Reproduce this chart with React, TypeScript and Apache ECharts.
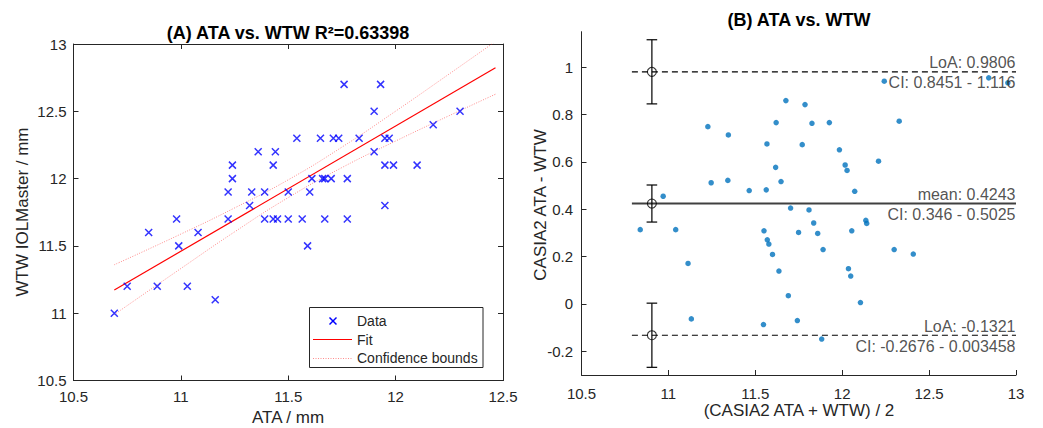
import React, { useEffect, useRef } from "react";
import * as echarts from "echarts";

// ---------- Panel A data: ATA (x) vs. WTW IOLMaster (y) ----------
const ataValues = [
  10.69, 11.16, 10.75, 10.89, 11.03, 10.99, 11.59, 10.85, 11.08,
  10.98, 11.22, 11.39, 11.43, 11.45, 11.5, 11.565, 11.67, 11.775,
  11.32, 11.95, 11.22, 11.33, 11.39, 11.5, 11.6,
  11.24, 11.61, 11.66, 11.67, 11.7, 11.775,
  11.24, 11.43, 11.95, 11.99, 12.1,
  11.36, 11.44, 11.9,
  11.54, 11.65, 11.71, 11.735, 11.83, 11.95, 11.97,
  12.175, 11.9, 12.3, 11.76, 11.93,
];
const wtwValues = [
  11.0, 11.1, 11.2, 11.2, 11.2, 11.5, 11.5, 11.6, 11.6,
  11.7, 11.7, 11.7, 11.7, 11.7, 11.7, 11.7, 11.7, 11.7,
  11.8, 11.8, 11.9, 11.9, 11.9, 11.9, 11.9,
  12.0, 12.0, 12.0, 12.0, 12.0, 12.0,
  12.1, 12.1, 12.1, 12.1, 12.1,
  12.2, 12.2, 12.2,
  12.3, 12.3, 12.3, 12.3, 12.3, 12.3, 12.3,
  12.4, 12.5, 12.5, 12.7, 12.7,
];
const fitX = [10.69, 12.465];
const fitY = [11.172, 12.823];
const boundX = [10.69, 11.0, 11.25, 11.5, 11.75, 12.0, 12.25, 12.465];
const boundUpper = [11.36, 11.588, 11.782, 11.991, 12.234, 12.501, 12.778, 13.019];
const boundLower = [10.99, 11.332, 11.604, 11.859, 12.082, 12.279, 12.468, 12.627];
const titleA = "(A) ATA vs. WTW R\u00b2=0.63398";

// ---------- Panel B data: Bland-Altman ----------
const meanValues = [
  10.838, 10.97, 11.042, 11.113, 11.132, 11.227, 11.246, 11.342, 11.345, 11.465,
  11.563, 11.567, 11.62, 11.617, 11.648, 11.676, 11.703, 11.55, 11.569, 11.578,
  11.599, 11.636, 11.69, 11.547, 11.742, 11.749, 11.77, 11.786, 11.826, 11.809,
  11.836, 11.859, 11.89, 11.882, 11.926, 11.984, 12.017, 12.028, 12.036, 12.049,
  12.055, 12.072, 12.105, 12.136, 12.141, 12.209, 12.242, 12.299, 12.328, 12.409,
  12.843, 12.953,
];
const diffValues = [
  0.314, 0.455, 0.314, 0.171, -0.063, 0.749, 0.512, 0.522, 0.714, 0.479,
  0.482, 0.676, 0.766, 0.577, 0.517, 0.859, 0.405, 0.309, 0.271, 0.253,
  0.209, 0.139, 0.035, -0.087, -0.07, 0.302, 0.673, 0.842, 0.763, 0.397,
  0.342, 0.298, 0.23, -0.148, 0.766, 0.651, 0.587, 0.564, 0.149, 0.118,
  0.309, 0.476, 0.006, 0.353, 0.34, 0.603, 0.941, 0.23, 0.772, 0.211,
  0.955, 0.934,
];
const loaUpper = 0.9806;
const ciUpper = [0.8451, 1.116];
const meanDiff = 0.4243;
const ciMean = [0.346, 0.5025];
const loaLower = -0.1321;
const ciLower = [-0.2676, 0.003458];
const refLineX = [10.79, 13];
const errorBarX = 10.905;
const yTicksB = [-0.2, 0, 0.2, 0.4, 0.6, 0.8, 1];
const titleB = "(B) ATA vs. WTW";

const FONT = "'Liberation Sans', Arial, Helvetica, sans-serif";
const TXT = "#262626";

export default function App() {
  const ref = useRef<HTMLDivElement>(null);

  useEffect(() => {
    if (!ref.current) return;
    const chart = echarts.init(ref.current, undefined, { renderer: "svg" });

    const axisLine = { show: true, onZero: false, lineStyle: { color: TXT, width: 1 } };
    const tick = { show: true, inside: true, length: 5, lineStyle: { color: TXT, width: 1 } };
    const label = (margin: number) => ({
      show: true,
      margin,
      fontSize: 15,
      color: TXT,
      fontFamily: FONT,
    });

    const xMark = "path://M0,0L7,7M7,0L0,7";

    const refLines = [
      { v: loaUpper, dashed: true },
      { v: meanDiff, dashed: false },
      { v: loaLower, dashed: true },
    ];

    const annotations = [
      { v: loaUpper, text: `LoA: ${loaUpper}`, dy: -9 },
      { v: loaUpper, text: `CI: ${ciUpper[0]} - ${ciUpper[1]}`, dy: 11 },
      { v: meanDiff, text: `mean: ${meanDiff}`, dy: -9 },
      { v: meanDiff, text: `CI: ${ciMean[0]} - ${ciMean[1]}`, dy: 11 },
      { v: loaLower, text: `LoA: ${loaLower}`, dy: -9 },
      { v: loaLower, text: `CI: ${ciLower[0]} - ${ciLower[1]}`, dy: 11 },
    ];

    const errBars = [
      [errorBarX, ciUpper[0], ciUpper[1]],
      [errorBarX, ciMean[0], ciMean[1]],
      [errorBarX, ciLower[0], ciLower[1]],
    ];

    const nameStyle = { fontSize: 17, fill: TXT, fontFamily: FONT, textAlign: "center", textVerticalAlign: "middle" };
    const titleStyle = { fontSize: 18, fontWeight: "bold", fill: "#000", fontFamily: FONT, textAlign: "center", textVerticalAlign: "middle" };

    const option: any = {
      animation: false,
      backgroundColor: "#ffffff",
      textStyle: { fontFamily: FONT },
      grid: [
        { left: 73.5, top: 44, width: 429.5, height: 336.5, containLabel: false },
        { left: 581.5, top: 31.7, width: 434.5, height: 343.3, containLabel: false },
      ],
      xAxis: [
        {
          gridIndex: 0, type: "value", min: 10.5, max: 12.5, interval: 0.5, position: "bottom",
          axisLine, axisTick: tick, axisLabel: label(8.5), splitLine: { show: false },
        },
        {
          gridIndex: 0, type: "value", min: 10.5, max: 12.5, interval: 0.5, position: "top",
          axisLine, axisTick: tick, axisLabel: { show: false }, splitLine: { show: false },
        },
        {
          gridIndex: 1, type: "value", min: 10.5, max: 13, interval: 0.5, position: "bottom",
          axisLine, axisTick: tick, axisLabel: label(10.5), splitLine: { show: false },
        },
      ],
      yAxis: [
        {
          gridIndex: 0, type: "value", min: 10.5, max: 13, interval: 0.5, position: "left",
          axisLine, axisTick: tick, axisLabel: label(7), splitLine: { show: false },
        },
        {
          gridIndex: 0, type: "value", min: 10.5, max: 13, interval: 0.5, position: "right",
          axisLine, axisTick: tick, axisLabel: { show: false }, splitLine: { show: false },
        },
        {
          gridIndex: 1, type: "value", min: -0.3, max: 1.15, position: "left",
          axisLine,
          axisTick: { ...tick, customValues: yTicksB },
          axisLabel: {
            ...label(8.5),
            customValues: yTicksB,
            formatter: (v: number) => String(Math.round(v * 10) / 10),
          },
          splitLine: { show: false },
        },
      ],
      series: [
        {
          name: "Data",
          type: "scatter",
          xAxisIndex: 0,
          yAxisIndex: 0,
          symbol: xMark,
          symbolSize: 7,
          itemStyle: { color: "none", borderColor: "#0000ff", borderWidth: 1.5 },
          data: ataValues.map((x, i) => [x, wtwValues[i]]),
          z: 4,
        },
        {
          name: "Fit",
          type: "line",
          xAxisIndex: 0,
          yAxisIndex: 0,
          symbol: "none",
          lineStyle: { color: "#ff0000", width: 1.2 },
          data: fitX.map((x, i) => [x, fitY[i]]),
          z: 3,
        },
        {
          name: "Confidence bounds",
          type: "line",
          xAxisIndex: 0,
          yAxisIndex: 0,
          symbol: "none",
          smooth: true,
          lineStyle: { color: "#ff0000", width: 1, type: [1, 1.5], opacity: 0.45 },
          data: boundX.map((x, i) => [x, boundUpper[i]]),
          z: 3,
        },
        {
          name: "Confidence bounds",
          type: "line",
          xAxisIndex: 0,
          yAxisIndex: 0,
          symbol: "none",
          smooth: true,
          lineStyle: { color: "#ff0000", width: 1, type: [1, 1.5], opacity: 0.45 },
          data: boundX.map((x, i) => [x, boundLower[i]]),
          z: 3,
        },
        {
          name: "Differences",
          type: "scatter",
          xAxisIndex: 2,
          yAxisIndex: 2,
          symbol: "circle",
          symbolSize: 5.5,
          itemStyle: { color: "#0072BD" },
          data: meanValues.map((x, i) => [x, diffValues[i]]),
          z: 4,
        },
        ...refLines.map((r) => ({
          type: "line",
          xAxisIndex: 2,
          yAxisIndex: 2,
          symbol: "none",
          lineStyle: r.dashed
            ? { color: "#000000", width: 1.2, type: [6, 4] }
            : { color: "#404040", width: 2 },
          data: refLineX.map((x) => [x, r.v]),
          z: 3,
        })),
        {
          type: "custom",
          xAxisIndex: 2,
          yAxisIndex: 2,
          data: errBars,
          encode: { x: 0, y: [1, 2] },
          renderItem: (_p: any, api: any) => {
            const x = api.value(0);
            const lo = api.coord([x, api.value(1)]);
            const hi = api.coord([x, api.value(2)]);
            const hw = 5.3;
            const style = { stroke: "#000000", lineWidth: 1.2 };
            return {
              type: "group",
              children: [
                { type: "line", shape: { x1: lo[0], y1: lo[1], x2: hi[0], y2: hi[1] }, style },
                { type: "line", shape: { x1: lo[0] - hw, y1: lo[1], x2: lo[0] + hw, y2: lo[1] }, style },
                { type: "line", shape: { x1: hi[0] - hw, y1: hi[1], x2: hi[0] + hw, y2: hi[1] }, style },
              ],
            };
          },
          z: 5,
        },
        {
          type: "scatter",
          xAxisIndex: 2,
          yAxisIndex: 2,
          symbol: "circle",
          symbolSize: 9,
          itemStyle: { color: "rgba(0,0,0,0)", borderColor: "#000000", borderWidth: 1.1 },
          data: errBars.map((e, i) => [e[0], refLines[i].v]),
          z: 6,
        },
        {
          type: "scatter",
          xAxisIndex: 2,
          yAxisIndex: 2,
          symbol: "circle",
          symbolSize: 1,
          itemStyle: { color: "rgba(0,0,0,0)" },
          silent: true,
          data: annotations.map((a) => ({
            value: [refLineX[1], a.v],
            label: {
              show: true,
              position: "left",
              distance: 0,
              offset: [0, a.dy],
              formatter: a.text,
              fontSize: 16,
              color: TXT,
              fontFamily: FONT,
            },
          })),
          z: 7,
        },
      ],
      graphic: [
        { type: "text", x: 288, y: 33, z: 100, style: { ...titleStyle, text: titleA } },
        { type: "text", x: 799, y: 20, z: 100, style: { ...titleStyle, text: titleB } },
        { type: "text", x: 288, y: 417, z: 100, style: { ...nameStyle, text: "ATA / mm" } },
        { type: "text", x: 799, y: 410, z: 100, style: { ...nameStyle, text: "(CASIA2 ATA + WTW) / 2" } },
        { type: "text", x: 22, y: 212, rotation: Math.PI / 2, z: 100, style: { ...nameStyle, text: "WTW IOLMaster / mm" } },
        { type: "text", x: 540, y: 205, rotation: Math.PI / 2, z: 100, style: { ...nameStyle, text: "CASIA2 ATA - WTW" } },
        // legend (panel A)
        {
          type: "rect", z: 100,
          shape: { x: 309.5, y: 307.5, width: 173.5, height: 60 },
          style: { fill: "#ffffff", stroke: TXT, lineWidth: 1 },
        },
        {
          type: "line", z: 101,
          shape: { x1: 329.5, y1: 317.5, x2: 336.5, y2: 324.5 },
          style: { stroke: "#0000ff", lineWidth: 1.5 },
        },
        {
          type: "line", z: 101,
          shape: { x1: 336.5, y1: 317.5, x2: 329.5, y2: 324.5 },
          style: { stroke: "#0000ff", lineWidth: 1.5 },
        },
        {
          type: "line", z: 101,
          shape: { x1: 313, y1: 339.5, x2: 352, y2: 339.5 },
          style: { stroke: "#ff0000", lineWidth: 1.2 },
        },
        {
          type: "line", z: 101,
          shape: { x1: 313, y1: 358.5, x2: 352, y2: 358.5 },
          style: { stroke: "#ff0000", lineWidth: 1, lineDash: [1, 1.5], opacity: 0.45 },
        },
        {
          type: "text", x: 357, y: 321, z: 101,
          style: { text: "Data", fontSize: 14, fill: TXT, fontFamily: FONT, textVerticalAlign: "middle" },
        },
        {
          type: "text", x: 357, y: 339.5, z: 101,
          style: { text: "Fit", fontSize: 14, fill: TXT, fontFamily: FONT, textVerticalAlign: "middle" },
        },
        {
          type: "text", x: 357, y: 358, z: 101,
          style: { text: "Confidence bounds", fontSize: 14, fill: TXT, fontFamily: FONT, textVerticalAlign: "middle" },
        },
      ],
    };

    chart.setOption(option);
    return () => chart.dispose();
  }, []);

  return (
    <div
      ref={ref}
      style={{ position: "absolute", left: 0, top: 0, width: 1043, height: 428, background: "#fff" }}
    />
  );
}
